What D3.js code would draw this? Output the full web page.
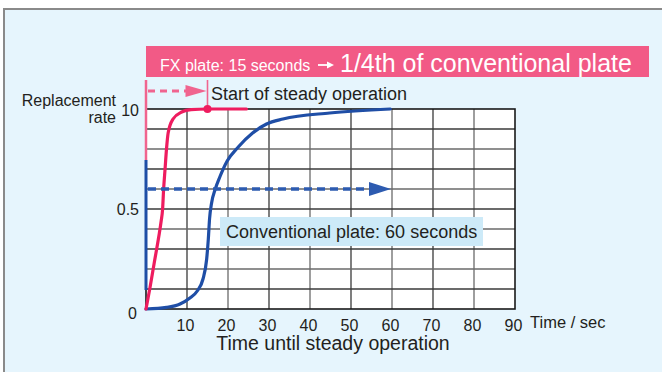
<!DOCTYPE html>
<html>
<head>
<meta charset="utf-8">
<script src="https://cdn.jsdelivr.net/npm/d3@7"></script>
<style>
  html, body { margin: 0; padding: 0; background: #ffffff; }
  svg { display: block; }
  text { font-family: "Liberation Sans", Arial, Helvetica, sans-serif; fill: #231f20; }
</style>
</head>
<body>
<svg id="chart" width="662" height="372"></svg>
<script>
// Time axis ticks (seconds) and replacement-rate ticks
const timeTicks = [10, 20, 30, 40, 50, 60, 70, 80, 90];
const rateTicks = [0, 0.5, 1];
const rateTickLabels = ["0", "0.5", "10"];
const rateGrid = [0.1, 0.2, 0.3, 0.4, 0.5, 0.6, 0.7, 0.8, 0.9];

// FX plate replacement curve
const fxTime = [0, 1, 2, 3.1, 3.7, 4.05, 4.3, 4.65, 5.0, 5.4, 6.6, 8.7, 11, 15, 24.5];
const fxRate = [0, 0.11, 0.23, 0.36, 0.44, 0.5, 0.6, 0.7, 0.8, 0.88, 0.95, 0.985, 0.997, 1, 1];

// Conventional plate replacement curve
const convTime = [0, 5, 8.3, 10.7, 12.5, 13.9, 14.8, 15.2, 15.5, 16, 16.9, 18, 19.8, 22.5, 26, 29.4, 33.4, 44.8, 59.6];
const convRate = [0, 0.008, 0.025, 0.055, 0.09, 0.15, 0.25, 0.35, 0.45, 0.53, 0.6, 0.66, 0.74, 0.81, 0.88, 0.925, 0.95, 0.98, 1.0];

// Time to steady operation for each plate
const fxSteady = 15;
const convSteady = 60;
const arrowLevelConv = 0.6;

const svg = d3.select("#chart");
const pink = "#ee1c5f";
const pinkLight = "#f0648f";
const blue = "#1f4ea6";

// Panel background with border on the top and left
svg.append("rect").attr("x", 4).attr("y", 9).attr("width", 670).attr("height", 380)
  .attr("fill", "#e6f5fd");
svg.append("path").attr("d", "M4,380 V9 H670")
  .attr("fill", "none").attr("stroke", "#8a8a8a").attr("stroke-width", 2);

const x = d3.scaleLinear().domain([0, 90]).range([146, 515]);
const y = d3.scaleLinear().domain([0, 1]).range([309, 109]);

// Plot area
svg.append("rect").attr("x", x(0)).attr("y", y(1))
  .attr("width", x(90) - x(0)).attr("height", y(0) - y(1)).attr("fill", "#ffffff");

const grid = svg.append("g");
grid.selectAll("line.v").data(timeTicks.slice(0, -1)).join("line")
  .attr("x1", d => x(d)).attr("x2", d => x(d)).attr("y1", y(0)).attr("y2", y(1))
  .attr("stroke", (d, i) => i % 2 === 0 ? "#3a3a3a" : "#6a6a6a").attr("stroke-width", 1.3);
grid.selectAll("line.h").data(rateGrid).join("line")
  .attr("y1", d => y(d)).attr("y2", d => y(d)).attr("x1", x(0)).attr("x2", x(90))
  .attr("stroke", (d, i) => i % 2 === 0 ? "#3a3a3a" : "#6a6a6a").attr("stroke-width", 1.3);

svg.append("rect").attr("x", x(0)).attr("y", y(1))
  .attr("width", x(90) - x(0)).attr("height", y(0) - y(1))
  .attr("fill", "none").attr("stroke", "#1a1a1a").attr("stroke-width", 1.6);

// Axis ticks
const xAxis = d3.axisBottom(x).tickValues(timeTicks).tickSize(0).tickFormat(d3.format("d"));
const xg = svg.append("g").attr("transform", `translate(0,${y(0) + 5})`).call(xAxis);
xg.select(".domain").remove();
xg.selectAll("text").style("font-size", "16px").attr("fill", "#231f20")
  .attr("dy", "0.85em").attr("dx", "-2px");

const yAxis = d3.axisLeft(y).tickValues(rateTicks).tickSize(0)
  .tickFormat((d, i) => rateTickLabels[i]);
const yg = svg.append("g").attr("transform", `translate(${x(0) - 4},0)`).call(yAxis);
yg.select(".domain").remove();
yg.selectAll("text").style("font-size", "16px").attr("fill", "#231f20")
  .attr("dy", (d) => d === 0 ? "0.6em" : (d === 1 ? "0.4em" : "0.32em"))
  .attr("dx", (d) => d === 0 ? "-2px" : "0px");

svg.append("text").attr("x", 116).attr("y", 106).attr("text-anchor", "end")
  .style("font-size", "16px").text("Replacement");
svg.append("text").attr("x", 116).attr("y", 123).attr("text-anchor", "end")
  .style("font-size", "16px").text("rate");
svg.append("text").attr("x", 530).attr("y", 328)
  .style("font-size", "16.5px").text("Time / sec");
svg.append("text").attr("x", 333).attr("y", 350).attr("text-anchor", "middle")
  .style("font-size", "19.5px").text("Time until steady operation");

// Left edge markers
svg.append("line").attr("x1", x(0)).attr("x2", x(0)).attr("y1", 80).attr("y2", 160)
  .attr("stroke", pinkLight).attr("stroke-width", 2.5);
svg.append("line").attr("x1", x(0)).attr("x2", x(0)).attr("y1", 160).attr("y2", 290)
  .attr("stroke", blue).attr("stroke-width", 3);
svg.append("line").attr("x1", x(fxSteady)).attr("x2", x(fxSteady)).attr("y1", 80).attr("y2", y(1))
  .attr("stroke", pinkLight).attr("stroke-width", 1.6);

// Curves
const line = d3.line().x(d => x(d[0])).y(d => y(d[1])).curve(d3.curveMonotoneX);
svg.append("path").datum(convTime.map((t, i) => [t, convRate[i]]))
  .attr("d", line).attr("fill", "none").attr("stroke", blue)
  .attr("stroke-width", 3.2).attr("stroke-linecap", "round");
svg.append("path").datum(fxTime.map((t, i) => [t, fxRate[i]]))
  .attr("d", line).attr("fill", "none").attr("stroke", pink)
  .attr("stroke-width", 3.2).attr("stroke-linecap", "round");
svg.append("circle").attr("cx", x(fxSteady)).attr("cy", y(1)).attr("r", 4).attr("fill", pink);

// Conventional plate dashed arrow
const yConv = y(arrowLevelConv);
svg.append("line").attr("x1", x(0) + 2).attr("x2", x(convSteady) - 22).attr("y1", yConv).attr("y2", yConv)
  .attr("stroke", "#2d5bb0").attr("stroke-width", 3.5).attr("stroke-dasharray", "8,5");
svg.append("path")
  .attr("d", `M${x(convSteady) - 23},${yConv - 7} L${x(convSteady) - 1},${yConv} L${x(convSteady) - 23},${yConv + 7} Z`)
  .attr("fill", "#2d5bb0");

// FX plate dashed arrow
const yFx = 91;
svg.append("line").attr("x1", x(0) + 2).attr("x2", x(fxSteady) - 21).attr("y1", yFx).attr("y2", yFx)
  .attr("stroke", pinkLight).attr("stroke-width", 3).attr("stroke-dasharray", "7,5");
svg.append("path")
  .attr("d", `M${x(fxSteady) - 22},${yFx - 6} L${x(fxSteady) - 1},${yFx} L${x(fxSteady) - 22},${yFx + 6} Z`)
  .attr("fill", pinkLight);
svg.append("text").attr("x", 211).attr("y", 100).style("font-size", "18px")
  .text("Start of steady operation");

// Conventional plate label
svg.append("rect").attr("x", 220).attr("y", 217).attr("width", 263).attr("height", 29)
  .attr("fill", "#cdeaf8");
svg.append("text").attr("x", 226).attr("y", 238).style("font-size", "18px")
  .text("Conventional plate: 60 seconds");

// Banner
svg.append("rect").attr("x", 146).attr("y", 46).attr("width", 503).attr("height", 31)
  .attr("fill", "#f25a86");
svg.append("text").attr("x", 160).attr("y", 71).style("font-size", "16px").style("fill", "#ffffff")
  .text("FX plate: 15 seconds");
// Arrow glyph drawn as a small path so it reads at the same weight as the text
svg.append("path").attr("d", "M318,65 H330").attr("stroke", "#ffffff").attr("stroke-width", 1.8);
svg.append("path").attr("d", "M327,61.5 L334,65 L327,68.5 Z").attr("fill", "#ffffff");
svg.append("text").attr("x", 340).attr("y", 72).style("font-size", "25px").style("fill", "#ffffff")
  .style("font-weight", "500").text("1/4th of conventional plate");
</script>
</body>
</html>
